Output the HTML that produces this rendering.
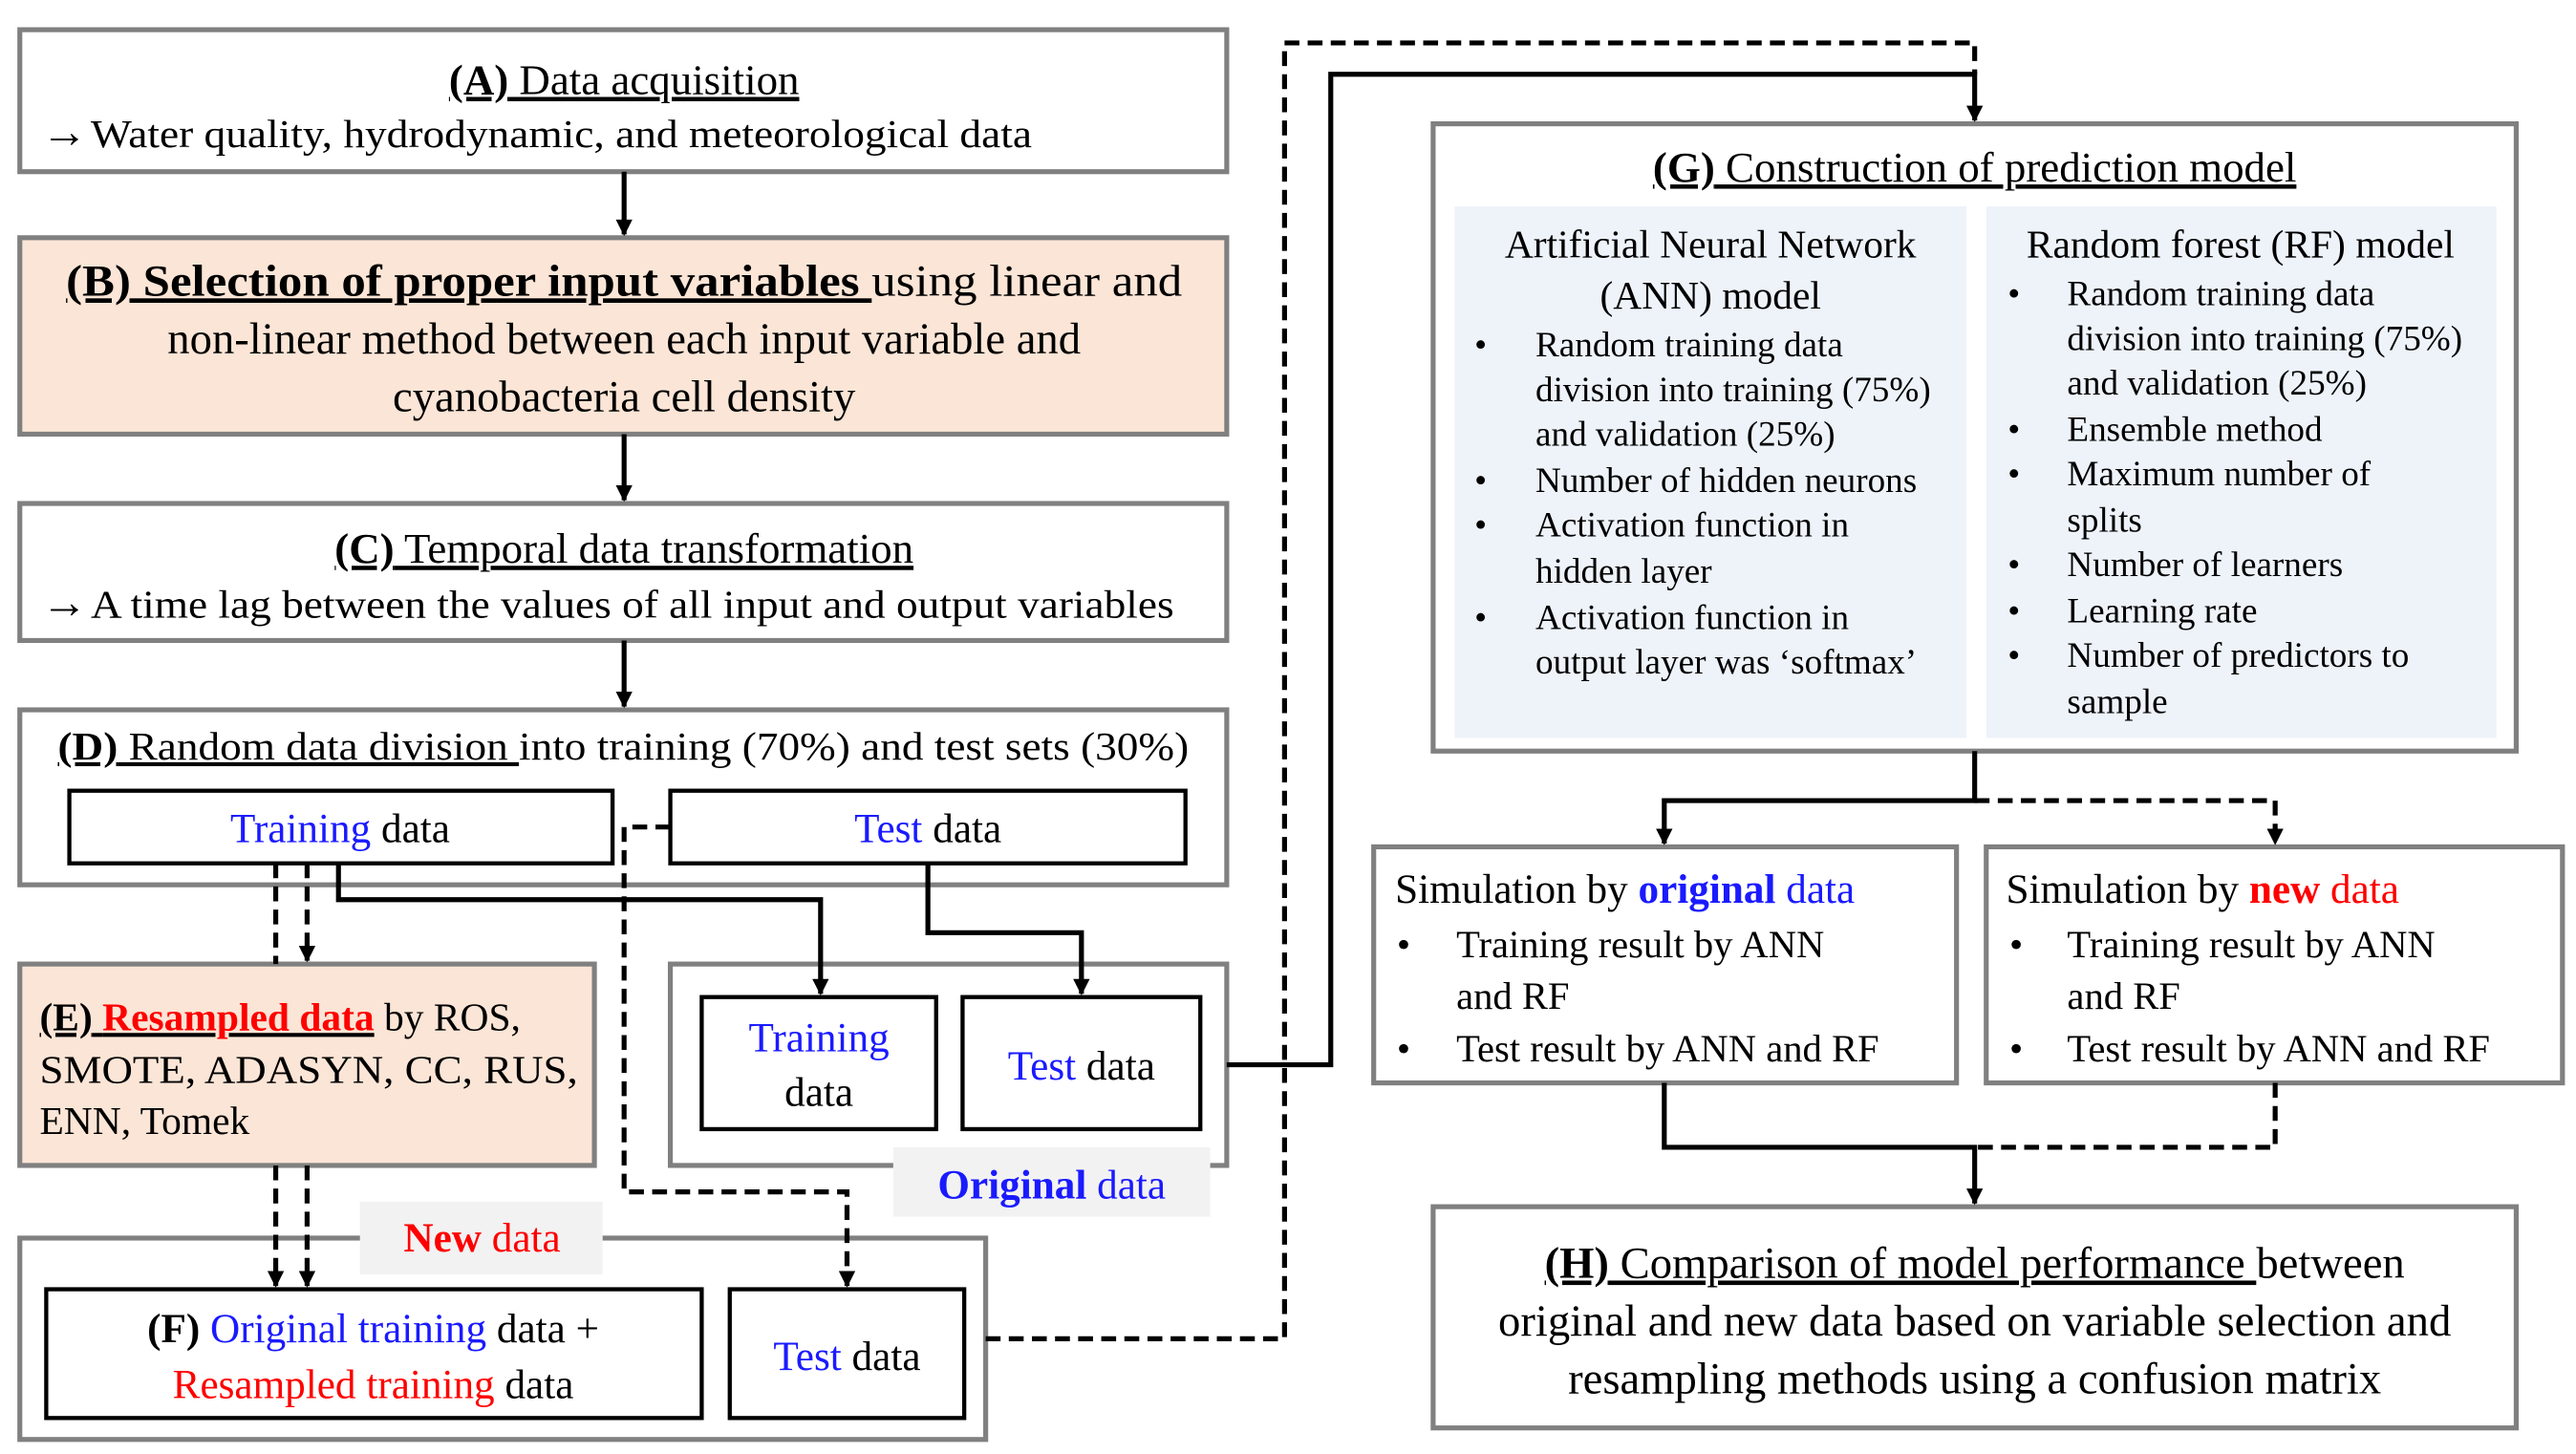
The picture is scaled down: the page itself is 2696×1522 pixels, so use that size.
<!DOCTYPE html>
<html><head><meta charset="utf-8"><style>html,body{margin:0;padding:0;background:#fff}svg{display:block}</style></head>
<body>
<svg width="2696" height="1522" viewBox="0 0 1560.2 880.8" xmlns="http://www.w3.org/2000/svg" font-family="'Liberation Serif', 'Times New Roman', serif" fill="#000">
<defs>
<marker id="ah" viewBox="0 0 10 10" markerWidth="11" markerHeight="10" refX="9" refY="5" orient="auto" markerUnits="userSpaceOnUse">
<path d="M0,0 L10,5 L0,10 Z" fill="#000"/>
</marker>
</defs>
<g stroke="#808080" stroke-width="3" fill="none">
<rect x="12" y="18" width="731" height="86" fill="#fff"/>
<rect x="12" y="144" width="731" height="119" fill="#fbe5d6"/>
<rect x="12" y="305" width="731" height="83" fill="#fff"/>
<rect x="12" y="430" width="731" height="106" fill="#fff"/>
<rect x="12" y="584" width="348" height="122" fill="#fbe5d6"/>
<rect x="406" y="584" width="337" height="122" fill="#fff"/>
<rect x="12" y="750" width="585" height="122" fill="#fff"/>
<rect x="868" y="75" width="656" height="380" fill="#fff"/>
<rect x="832" y="513" width="353" height="143" fill="#fff"/>
<rect x="1203" y="513" width="349" height="143" fill="#fff"/>
<rect x="868" y="731" width="656" height="134" fill="#fff"/>
</g>
<rect x="881" y="125" width="310" height="322" fill="#eef3fa"/>
<rect x="1203" y="125" width="309" height="322" fill="#eef3fa"/>
<rect x="541" y="695" width="192" height="42" fill="#f2f2f2"/>
<rect x="218" y="728" width="147" height="44" fill="#f2f2f2"/>
<g stroke="#000" stroke-width="2.5" fill="#fff">
<rect x="42" y="479" width="329" height="44"/>
<rect x="406" y="479" width="312" height="44"/>
<rect x="425" y="604" width="142" height="80"/>
<rect x="583" y="604" width="144" height="80"/>
<rect x="28" y="781" width="397" height="78"/>
<rect x="442" y="781" width="142" height="78"/>
</g>
<g stroke="#000" stroke-width="3" fill="none">
<line x1="378" y1="104" x2="378" y2="142" marker-end="url(#ah)"/>
<line x1="378" y1="263" x2="378" y2="303" marker-end="url(#ah)"/>
<line x1="378" y1="388" x2="378" y2="428" marker-end="url(#ah)"/>
<polyline points="205,523 205,545 497,545 497,602" marker-end="url(#ah)"/>
<polyline points="562,523 562,565 655,565 655,602" marker-end="url(#ah)"/>
<polyline points="743,645 806,645 806,45 1196,45 1196,73" marker-end="url(#ah)"/>
<polyline points="1196,455 1196,485 1008,485 1008,511" marker-end="url(#ah)"/>
<polyline points="1008,656 1008,695 1196,695 1196,729" marker-end="url(#ah)"/>
</g>
<g stroke="#000" stroke-width="3" fill="none" stroke-dasharray="9,5">
<line x1="167" y1="523" x2="167" y2="584"/>
<line x1="186" y1="523" x2="186" y2="582" marker-end="url(#ah)"/>
<line x1="167" y1="706" x2="167" y2="779" marker-end="url(#ah)"/>
<line x1="186" y1="706" x2="186" y2="779" marker-end="url(#ah)"/>
<polyline points="406,501 378,501 378,722 513,722 513,779" marker-end="url(#ah)"/>
<polyline points="597,811 778,811 778,26 1196,26 1196,45"/>
<polyline points="1196,485 1378,485 1378,511" marker-end="url(#ah)"/>
<polyline points="1378,656 1378,695 1196,695"/>
</g>
<g font-size="26" text-anchor="middle">
<text x="378" y="57" text-decoration="underline"><tspan font-weight="bold">(A)</tspan> Data acquisition</text>
<text x="378" y="341" text-decoration="underline"><tspan font-weight="bold">(C)</tspan> Temporal data transformation</text>
<text x="1196" y="110" text-decoration="underline"><tspan font-weight="bold">(G)</tspan> Construction of prediction model</text>
</g>
<text x="25" y="89" font-size="28" font-weight="bold">→</text>
<text x="55" y="89" font-size="24" textLength="570" lengthAdjust="spacingAndGlyphs">Water quality, hydrodynamic, and meteorological data</text>
<text x="25" y="374" font-size="28" font-weight="bold">→</text>
<text x="55" y="374" font-size="24" textLength="656" lengthAdjust="spacingAndGlyphs">A time lag between the values of all input and output variables</text>
<g font-size="27" text-anchor="middle">
<text x="378" y="179" textLength="676" lengthAdjust="spacingAndGlyphs"><tspan font-weight="bold" text-decoration="underline">(B) Selection of proper input variables </tspan>using linear and</text>
<text x="378" y="214">non-linear method between each input variable and</text>
<text x="378" y="249">cyanobacteria cell density</text>
</g>
<text x="35" y="460" font-size="24" textLength="685" lengthAdjust="spacingAndGlyphs"><tspan text-decoration="underline"><tspan font-weight="bold">(D)</tspan> Random data division </tspan>into training (70%) and test sets (30%)</text>
<g font-size="25" text-anchor="middle">
<text x="206" y="510"><tspan fill="#1a1aff">Training</tspan> data</text>
<text x="562" y="510"><tspan fill="#1a1aff">Test</tspan> data</text>
<text x="496" y="637" fill="#1a1aff">Training</text>
<text x="496" y="670">data</text>
<text x="655" y="654"><tspan fill="#1a1aff">Test</tspan> data</text>
<text x="637" y="726" fill="#1a1aff"><tspan font-weight="bold">Original</tspan> data</text>
<text x="292" y="758" fill="#ff0000"><tspan font-weight="bold">New</tspan> data</text>
<text x="226" y="813"><tspan font-weight="bold">(F)</tspan> <tspan fill="#1a1aff">Original training</tspan> data +</text>
<text x="226" y="847"><tspan fill="#ff0000">Resampled training</tspan> data</text>
<text x="513" y="830"><tspan fill="#1a1aff">Test</tspan> data</text>
</g>
<g font-size="24">
<text x="24" y="624"><tspan text-decoration="underline"><tspan font-weight="bold">(E)</tspan> <tspan fill="#ff0000" font-weight="bold">Resampled data</tspan></tspan> by ROS,</text>
<text x="24" y="656" textLength="326" lengthAdjust="spacingAndGlyphs">SMOTE, ADASYN, CC, RUS,</text>
<text x="24" y="687">ENN, Tomek</text>
</g>
<g font-size="24" text-anchor="middle">
<text x="1036" y="156">Artificial Neural Network</text>
<text x="1036" y="187">(ANN) model</text>
<text x="1357" y="156">Random forest (RF) model</text>
</g>
<g font-size="21.5">
<text x="893" y="216">•</text><text x="930" y="216">Random training data</text>
<text x="930" y="243">division into training (75%)</text>
<text x="930" y="270">and validation (25%)</text>
<text x="893" y="298">•</text><text x="930" y="298">Number of hidden neurons</text>
<text x="893" y="325">•</text><text x="930" y="325">Activation function in</text>
<text x="930" y="353">hidden layer</text>
<text x="893" y="381">•</text><text x="930" y="381">Activation function in</text>
<text x="930" y="408">output layer was ‘softmax’</text>
<text x="1216" y="185">•</text><text x="1252" y="185">Random training data</text>
<text x="1252" y="212">division into training (75%)</text>
<text x="1252" y="239">and validation (25%)</text>
<text x="1216" y="267">•</text><text x="1252" y="267">Ensemble method</text>
<text x="1216" y="294">•</text><text x="1252" y="294">Maximum number of</text>
<text x="1252" y="322">splits</text>
<text x="1216" y="349">•</text><text x="1252" y="349">Number of learners</text>
<text x="1216" y="377">•</text><text x="1252" y="377">Learning rate</text>
<text x="1216" y="404">•</text><text x="1252" y="404">Number of predictors to</text>
<text x="1252" y="432">sample</text>
</g>
<g font-size="25">
<text x="845" y="547">Simulation by <tspan fill="#1a1aff" font-weight="bold">original</tspan> <tspan fill="#1a1aff">data</tspan></text>
<text x="1215" y="547">Simulation by <tspan fill="#ff0000" font-weight="bold">new</tspan> <tspan fill="#ff0000">data</tspan></text>
</g>
<g font-size="23.5">
<text x="846" y="580">•</text><text x="882" y="580">Training result by ANN</text>
<text x="882" y="611">and RF</text>
<text x="846" y="643">•</text><text x="882" y="643">Test result by ANN and RF</text>
<text x="1217" y="580">•</text><text x="1252" y="580">Training result by ANN</text>
<text x="1252" y="611">and RF</text>
<text x="1217" y="643">•</text><text x="1252" y="643">Test result by ANN and RF</text>
</g>
<g font-size="27" text-anchor="middle">
<text x="1196" y="774"><tspan text-decoration="underline"><tspan font-weight="bold">(H)</tspan> Comparison of model performance </tspan>between</text>
<text x="1196" y="809">original and new data based on variable selection and</text>
<text x="1196" y="844">resampling methods using a confusion matrix</text>
</g>
</svg>
</body></html>
